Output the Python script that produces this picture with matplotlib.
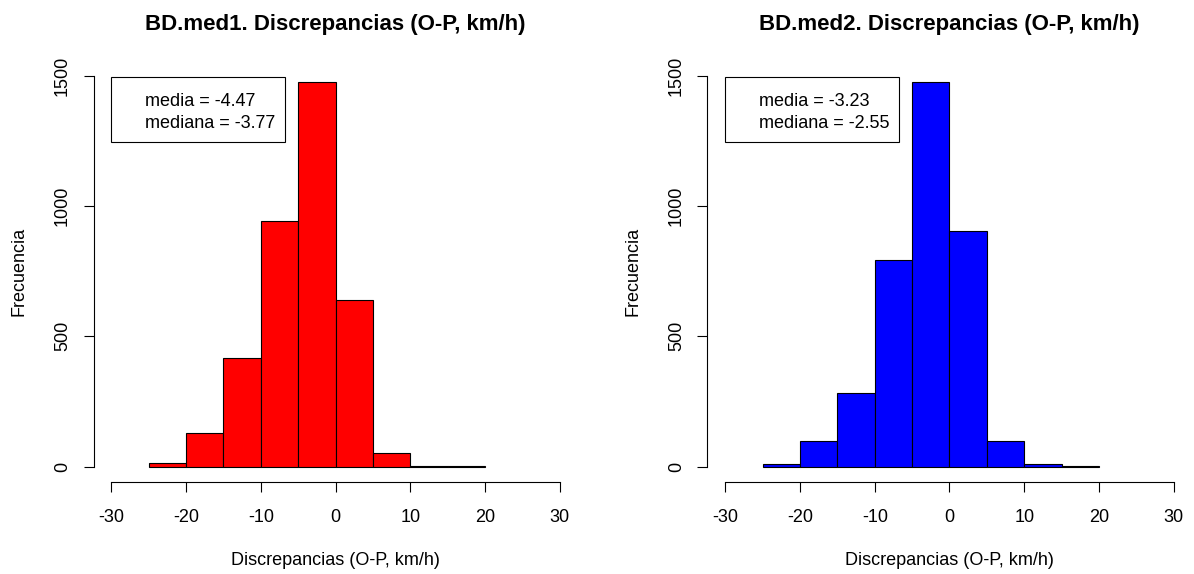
import matplotlib
matplotlib.use("Agg")
import matplotlib.pyplot as plt
import numpy as np

plt.rcParams['font.family'] = ['Liberation Sans', 'DejaVu Sans']
plt.rcParams['axes.unicode_minus'] = False

# bin edges shared by both histograms
edges = [-25, -20, -15, -10, -5, 0, 5, 10, 15, 20]

# counts
counts_med1 = [13, 128, 416, 942, 1477, 638, 52, 4, 1]
counts_med2 = [9, 98, 284, 792, 1477, 903, 98, 9, 1]

titles = ["BD.med1. Discrepancias (O-P, km/h)", "BD.med2. Discrepancias (O-P, km/h)"]
stats = [(-4.47, -3.77), (-3.23, -2.55)]
colors = ["#ff0000", "#0000ff"]

xticks = [-30, -20, -10, 0, 10, 20, 30]
yticks = [0, 500, 1000, 1500]

fig = plt.figure(figsize=(11.94, 5.74), dpi=100)
lefts = [93.5 / 1194, 707.5 / 1194]

for i, counts in enumerate([counts_med1, counts_med2]):
    ax = fig.add_axes([lefts[i], 91.7 / 574, 484 / 1194, 422.2 / 574])
    ax.bar(edges[:-1], counts, width=np.diff(edges), align='edge',
           color=colors[i], edgecolor='black', linewidth=0.8)
    ax.set_xlim(-32.4, 32.4)
    ax.set_ylim(-60, 1560)
    for s in ['top', 'right']:
        ax.spines[s].set_visible(False)
    ax.spines['left'].set_bounds(0, 1500)
    ax.spines['bottom'].set_bounds(-30, 30)
    ax.spines['left'].set_linewidth(0.8)
    ax.spines['bottom'].set_linewidth(0.8)
    ax.set_xticks(xticks)
    ax.set_yticks(yticks)
    ax.tick_params(axis='both', length=7.2, width=0.8, labelsize=13)
    ax.tick_params(axis='y', pad=9)
    ax.tick_params(axis='x', pad=12)
    plt.setp(ax.get_yticklabels(), rotation=90, va='center')
    ax.set_title(titles[i], fontsize=16, fontweight='bold', pad=22)
    ax.set_xlabel("Discrepancias (O-P, km/h)", fontsize=13, labelpad=19)
    ax.set_ylabel("Frecuencia", fontsize=13, labelpad=19)

    # legend-like box with mean and median
    box = plt.Rectangle((0.037, 0.806), 0.358, 0.154, transform=ax.transAxes,
                        fill=False, edgecolor='black', linewidth=0.8)
    ax.add_patch(box)
    ax.text(0.107, 0.903, "media = %.2f" % stats[i][0], transform=ax.transAxes,
            fontsize=13, va='center', ha='left')
    ax.text(0.107, 0.849, "mediana = %.2f" % stats[i][1], transform=ax.transAxes,
            fontsize=13, va='center', ha='left')

plt.savefig("out.png", dpi=100)
